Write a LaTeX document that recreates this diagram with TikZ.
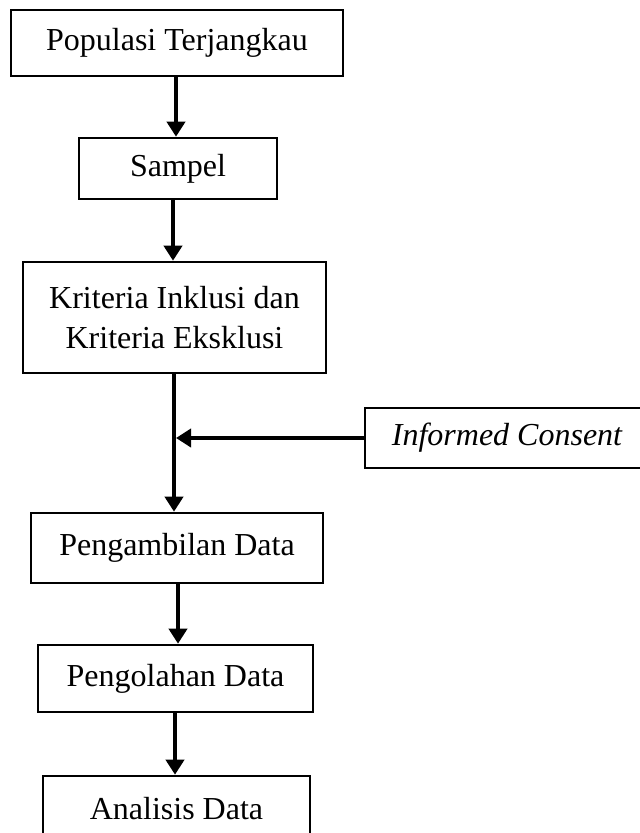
\documentclass[tikz,border=0pt]{standalone}
\usepackage{fontspec}
\setmainfont{Liberation Serif}
\usepackage{tikz}
\usetikzlibrary{arrows.meta}

\begin{document}
\begin{tikzpicture}
            [x=1pt,y=-1pt,
            kotak/.style = {rectangle, draw,
                        line width=2.6pt,
                        inner sep=0pt,
                        align=center,
                        font=\fontsize{32}{40}\selectfont},
            panah/.style = {line width=4pt,
                        -{Stealth[inset=0pt,length=15pt,width=18pt]}}]
            \path[use as bounding box] (0,0) rectangle (640,833);
            \clip (0,0) rectangle (640,833);
            % Kotak alur
            \node[kotak,minimum width=332pt,minimum height=66pt] (pop) at (177,43) {Populasi Terjangkau};
            \node[kotak,minimum width=198pt,minimum height=61pt] (sampel) at (178,168.5) {Sampel};
            \node[kotak,minimum width=303pt,minimum height=111pt] (kriteria) at (174.5,317.5) {Kriteria Inklusi dan\\Kriteria Eksklusi};
            \node[kotak,minimum width=284pt,minimum height=60pt] (ic) at (507,438) {\itshape Informed Consent};
            \node[kotak,minimum width=292pt,minimum height=70pt] (ambil) at (177,548) {Pengambilan Data};
            \node[kotak,minimum width=275pt,minimum height=67pt] (olah) at (175.5,678.5) {Pengolahan Data};
            \node[kotak,minimum width=267pt,minimum height=66pt] (analisis) at (176.5,809) {Analisis Data};
            % Panah
            \draw [panah] (176,76) coordinate (p1) -- (p1 |- sampel.north);
            \draw [panah] (173,199) coordinate (p2) -- (p2 |- kriteria.north);
            \draw [panah] (174,373) coordinate (p3) -- (p3 |- ambil.north);
            \draw [panah] (ic.west) -- ([xshift=2pt]ic.west -| p3);
            \draw [panah] (178,583) coordinate (p4) -- (p4 |- olah.north);
            \draw [panah] (175,712) coordinate (p5) -- (p5 |- analisis.north);
        \end{tikzpicture}
\end{document}
